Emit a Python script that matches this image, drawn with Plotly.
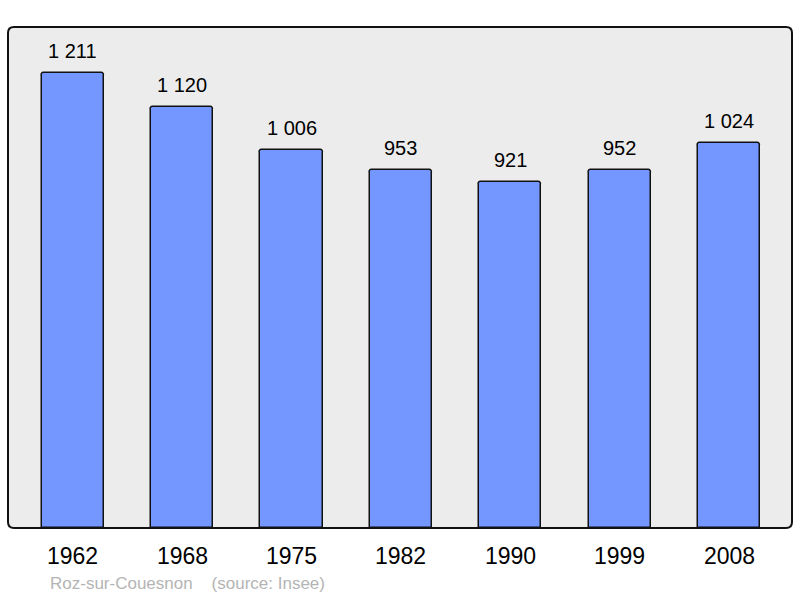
import plotly.graph_objects as go

years = ["1962", "1968", "1975", "1982", "1990", "1999", "2008"]
population = [1211, 1120, 1006, 953, 921, 952, 1024]
value_labels = ["1 211", "1 120", "1 006", "953", "921", "952", "1 024"]
source_text = "Roz-sur-Couesnon    (source: Insee)"

idx = list(range(len(years)))

fig = go.Figure()
fig.add_trace(go.Bar(
    x=idx, y=population, width=0.57,
    marker=dict(color="#7396ff", line=dict(color="#111111", width=1.5), cornerradius=3),
    hoverinfo="skip",
))

FONT = "Liberation Sans, Arial, sans-serif"
for i, v, lab in zip(idx, population, value_labels):
    fig.add_annotation(x=i, y=v, xref="x", yref="y", text=lab, showarrow=False,
                       yanchor="bottom", yshift=9, font=dict(size=20, color="#000", family=FONT))
for i, yr in zip(idx, years):
    fig.add_annotation(x=i, y=0, xref="x", yref="paper", text=yr, showarrow=False,
                       yanchor="middle", yshift=-28, font=dict(size=23, color="#000", family=FONT))
fig.add_annotation(x=(48 - 8) / 784, y=0, xref="paper", yref="paper",
                   text=source_text.replace("    ", "&nbsp;&nbsp;&nbsp;&nbsp;"),
                   showarrow=False, xanchor="left", yanchor="middle", yshift=-55,
                   font=dict(size=17, color="#b4b4b4", family=FONT))

# rounded border
rx, ry = 6 / 784, 6 / 501
path = (f"M {rx},0 L {1-rx},0 Q 1,0 1,{ry} L 1,{1-ry} Q 1,1 {1-rx},1 "
        f"L {rx},1 Q 0,1 0,{1-ry} L 0,{ry} Q 0,0 {rx},0 Z")
fig.add_shape(type="path", path=path, xref="paper", yref="paper",
              line=dict(color="#111111", width=2), layer="above")

fig.update_layout(
    width=800, height=598,
    margin=dict(l=8, r=8, t=27, b=70),
    paper_bgcolor="white", plot_bgcolor="#ececec",
    showlegend=False,
    bargap=0,
    xaxis=dict(range=[-0.594, 6.576], showticklabels=False, showgrid=False, zeroline=False, fixedrange=True),
    yaxis=dict(range=[0, 1333.5], showticklabels=False, showgrid=False, zeroline=False, fixedrange=True),
)
fig.write_html("out.html", config={"displayModeBar": False},
               post_script="document.body.style.margin='0';document.body.style.overflow='hidden';")
